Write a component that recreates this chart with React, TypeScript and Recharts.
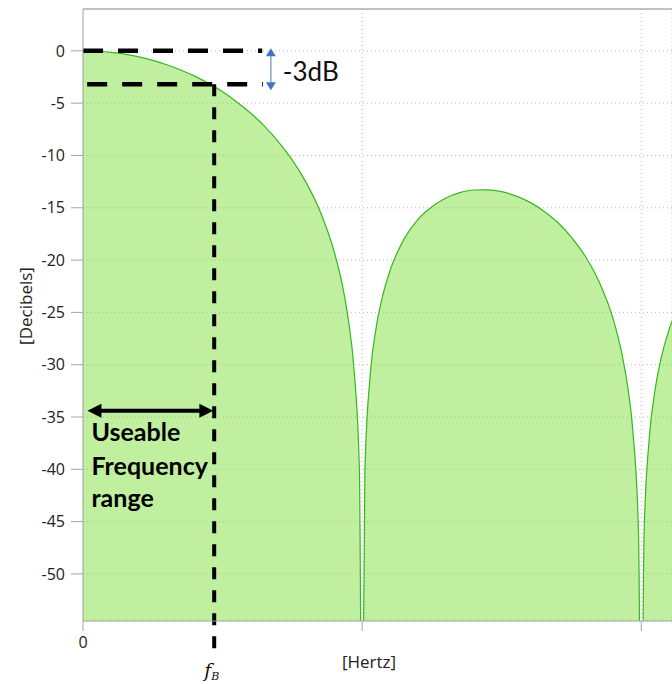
import { AreaChart, Area, XAxis, YAxis, CartesianGrid, ReferenceLine } from "recharts";

// frequency in units of the first null, gain in dB
const freq = [
  0, 0.05, 0.1, 0.15, 0.2, 0.25, 0.3, 0.35, 0.4, 0.45, 0.5, 0.55, 0.6, 0.65, 0.7, 0.75, 0.8, 0.85,
  0.9, 0.93, 0.95, 0.97, 0.99, 1.0, 1.01, 1.03, 1.05, 1.07, 1.1, 1.15, 1.2, 1.25, 1.3, 1.35, 1.4,
  1.45, 1.5, 1.55, 1.6, 1.65, 1.7, 1.75, 1.8, 1.85, 1.9, 1.93, 1.95, 1.97, 1.99, 2.0, 2.01, 2.03,
  2.05, 2.07, 2.1, 2.12,
];
const gainDb = [
  0, -0.04, -0.14, -0.32, -0.58, -0.91, -1.33, -1.83, -2.42, -3.11, -3.92, -4.86, -5.94, -7.2,
  -8.69, -10.45, -12.62, -15.39, -19.23, -22.5, -25.6, -30.2, -39.9, -70, -40.1, -30.7, -26.5,
  -23.8, -21.0, -18.0, -16.1, -14.9, -14.06, -13.55, -13.3, -13.28, -13.46, -13.86, -14.46, -15.3,
  -16.39, -17.82, -19.66, -22.15, -25.7, -28.9, -31.9, -36.4, -46.0, -70, -46.1, -36.6, -32.3,
  -29.5, -26.6, -25.2,
];
const yTicks = [0, -5, -10, -15, -20, -25, -30, -35, -40, -45, -50];
const xTicks = [0, 1, 2];
const xLabels = ["0", "", ""];

// annotation anchors (data units)
const cutoffFreq = 0.47;
const cutoffDb = -3.2;
const rangeArrowDb = -34.4;

const chartData = freq.map((f, i) => ({ f, db: gainDb[i] }));

const BlueArrow = (p: any) => {
  const x = p.x1;
  const top = Math.min(p.y1, p.y2);
  const bot = Math.max(p.y1, p.y2);
  return (
    <g>
      <line x1={x} y1={top + 6} x2={x} y2={bot - 6} stroke="#8ea2c8" strokeWidth={1.5} />
      <polygon points={`${x},${top} ${x - 5},${top + 8} ${x + 5},${top + 8}`} fill="#4472c4" />
      <polygon points={`${x},${bot} ${x - 5},${bot - 8} ${x + 5},${bot - 8}`} fill="#4472c4" />
      <text x={x + 12} y={bot - 9} fontFamily="Lato" fontSize={26} fill="#111">
        -3dB
      </text>
    </g>
  );
};

const RangeArrow = (p: any) => {
  const l = Math.min(p.x1, p.x2);
  const r = Math.max(p.x1, p.x2);
  const y = p.y1;
  const text = { fontFamily: "Lato", fontWeight: 700, fontSize: 25, fill: "#000" } as const;
  return (
    <g>
      <line x1={l + 10} y1={y} x2={r - 10} y2={y} stroke="#000" strokeWidth={4} />
      <polygon points={`${l},${y} ${l + 14},${y - 7} ${l + 14},${y + 7}`} fill="#000" />
      <polygon points={`${r},${y} ${r - 14},${y - 7} ${r - 14},${y + 7}`} fill="#000" />
      <text x={l + 4} y={y + 30} {...text}>Useable</text>
      <text x={l + 4} y={y + 64} {...text}>Frequency</text>
      <text x={l + 4} y={y + 96} {...text}>range</text>
    </g>
  );
};

const CutoffLine = (p: any) => {
  const x = p.x1;
  const top = Math.min(p.y1, p.y2);
  const bot = Math.max(p.y1, p.y2);
  return (
    <g>
      <line x1={x} y1={top} x2={x} y2={bot} stroke="#000" strokeWidth={4} strokeDasharray="12 11" />
      <text x={x - 10} y={bot + 24} fontFamily="DejaVu Serif" fontStyle="italic" fontSize={19} fill="#111">
        f
        <tspan fontSize={11} dy={3}>B</tspan>
      </text>
    </g>
  );
};

export default function App() {
  return (
    <div style={{ position: "absolute", left: 0, top: 0, width: 672, height: 684, overflow: "hidden", background: "#fff" }}>
      <AreaChart width={672} height={684} data={chartData} margin={{ top: 9, right: 0, left: 0, bottom: 0 }}>
        <CartesianGrid stroke="#b8b8b8" strokeDasharray="1 3" />
        <XAxis
          dataKey="f"
          type="number"
          domain={[0, 2.11]}
          ticks={xTicks}
          allowDataOverflow
          height={63}
          tickSize={10}
          tickMargin={6}
          tickFormatter={(v: number) => xLabels[xTicks.indexOf(v)] ?? ""}
          stroke="#a6a6a6"
          tick={{ fill: "#222", fontFamily: "Open Sans", fontSize: 16 }}
          label={{
            content: ({ viewBox }: any) => (
              <text x={viewBox.x + 286} y={viewBox.y + 47} textAnchor="middle" fontFamily="Open Sans" fontSize={17} fill="#222">
                [Hertz]
              </text>
            ),
          }}
        />
        <YAxis
          type="number"
          domain={[-54.5, 4]}
          ticks={yTicks}
          allowDataOverflow
          width={83}
          tickSize={12}
          tickMargin={6}
          stroke="#a6a6a6"
          tick={{ fill: "#222", fontFamily: "Open Sans", fontSize: 16 }}
          label={{
            content: ({ viewBox }: any) => {
              const cx = viewBox.x + 25;
              const cy = viewBox.y + viewBox.height / 2 - 9;
              return (
                <text
                  x={cx}
                  y={cy}
                  transform={`rotate(-90 ${cx} ${cy})`}
                  textAnchor="middle"
                  dominantBaseline="central"
                  fontFamily="Open Sans"
                  fontSize={17}
                  fill="#222"
                >
                  [Decibels]
                </text>
              );
            },
          }}
        />
        <Area
          type="monotone"
          dataKey="db"
          stroke="#36b81f"
          strokeWidth={1.2}
          fill="#80e040"
          fillOpacity={0.5}
          baseValue="dataMin"
          dot={false}
          activeDot={false}
          isAnimationActive={false}
        />
        <ReferenceLine y={4} stroke="#b0b0b0" strokeWidth={1.5} ifOverflow="visible" />
        <ReferenceLine
          segment={[{ x: 0, y: 0 }, { x: 0.642, y: 0 }]}
          stroke="#000"
          strokeWidth={4.5}
          strokeDasharray="20 15"
          ifOverflow="visible"
        />
        <ReferenceLine
          segment={[{ x: 0.015, y: cutoffDb }, { x: 0.645, y: cutoffDb }]}
          stroke="#000"
          strokeWidth={4.5}
          strokeDasharray="20 15"
          ifOverflow="visible"
        />
        <ReferenceLine
          segment={[{ x: cutoffFreq, y: cutoffDb }, { x: cutoffFreq, y: -57.6 }]}
          shape={CutoffLine}
          ifOverflow="visible"
        />
        <ReferenceLine
          segment={[{ x: 0.673, y: 0.25 }, { x: 0.673, y: -3.77 }]}
          shape={BlueArrow}
          ifOverflow="visible"
        />
        <ReferenceLine
          segment={[{ x: 0.016, y: rangeArrowDb }, { x: cutoffFreq - 0.003, y: rangeArrowDb }]}
          shape={RangeArrow}
          ifOverflow="visible"
        />
      </AreaChart>
    </div>
  );
}
